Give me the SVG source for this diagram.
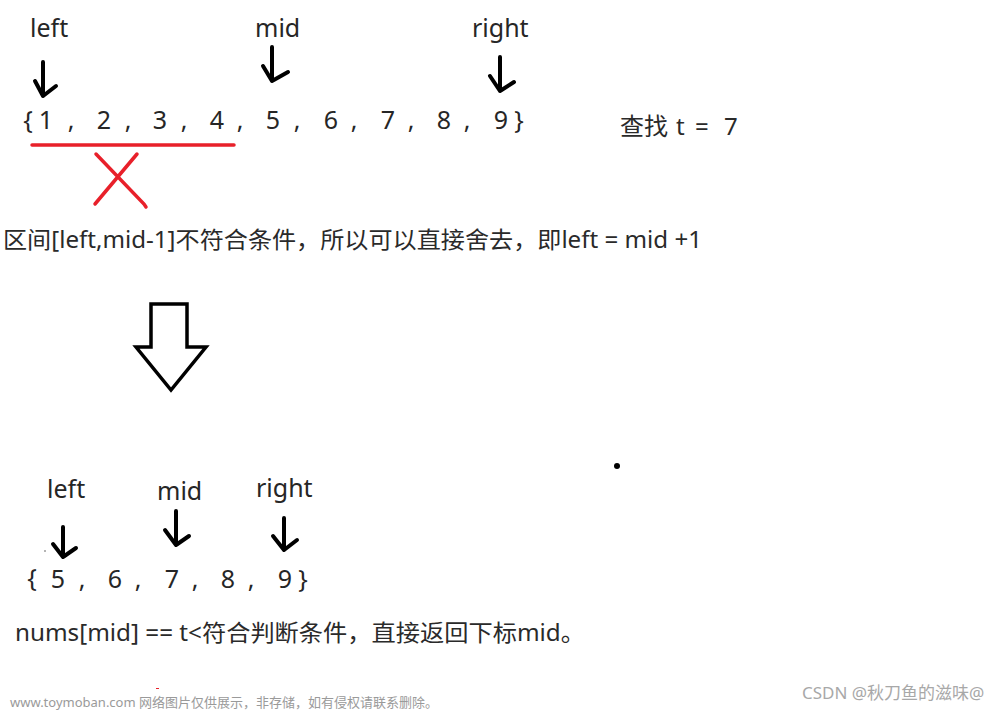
<svg xmlns="http://www.w3.org/2000/svg" width="1000" height="712" viewBox="0 0 1000 712">
<style>
.t{font-family:"Noto Sans","Open Sans","Noto Sans CJK SC",sans-serif;fill:#262626}
.lbl{font-size:25px}
.num{font-size:25px;text-anchor:middle}
.cn{font-family:"Noto Sans","Noto Sans CJK SC",sans-serif;font-size:23px;fill:#2a2a2a}
.pen{fill:none;stroke:#000;stroke-width:4;stroke-linecap:round;stroke-linejoin:round}
.red{fill:none;stroke:#e8202a;stroke-width:3.5;stroke-linecap:round}
.wm{font-family:"Noto Sans","Noto Sans CJK SC",sans-serif;font-size:13px;fill:#9a9a9a}
.csdn{font-family:"Noto Sans","Noto Sans CJK SC",sans-serif;font-size:17px;fill:#a8a8a8}
</style>
<rect width="1000" height="712" fill="#fff"/>
<g id="top-labels">
<text class="t lbl" x="30" y="37">left</text>
<text class="t lbl" x="255" y="37">mid</text>
<text class="t lbl" x="472" y="37">right</text>
</g>
<g id="top-array">
<text class="t num" x="28" y="129">{</text>
<text class="t num" x="46" y="129">1</text><text class="t num" x="71" y="129">,</text>
<text class="t num" x="104" y="129">2</text><text class="t num" x="128" y="129">,</text>
<text class="t num" x="160" y="129">3</text><text class="t num" x="184" y="129">,</text>
<text class="t num" x="217" y="129">4</text><text class="t num" x="240" y="129">,</text>
<text class="t num" x="273" y="129">5</text><text class="t num" x="297" y="129">,</text>
<text class="t num" x="331" y="129">6</text><text class="t num" x="354" y="129">,</text>
<text class="t num" x="388" y="129">7</text><text class="t num" x="411" y="129">,</text>
<text class="t num" x="444" y="129">8</text><text class="t num" x="467" y="129">,</text>
<text class="t num" x="501" y="129">9</text>
<text class="t num" x="519" y="129">}</text>
</g>
<g id="target">
<text class="cn" y="135" style="font-size:24px"><tspan x="620">查找</tspan><tspan x="676">t</tspan><tspan x="695">=</tspan><tspan x="724">7</tspan></text>
</g>
<g id="discard">
<line class="red" x1="32" y1="145" x2="234" y2="145"/>
<path class="red" d="M96 154 L144 204 L146 207 M95 204 L137 154"/>
</g>
<g id="explain1">
<text class="cn" x="3" y="248" textLength="699" lengthAdjust="spacingAndGlyphs">区间[left,mid-1]不符合条件，所以可以直接舍去，即left = mid +1</text>
</g>
<g id="big-arrow">
<path d="M151 304 H187 V347 H206 L171 390 L136 347 H151 Z" fill="#fff" stroke="#000" stroke-width="3.5" stroke-linejoin="miter"/>
</g>
<circle cx="617" cy="466" r="3" fill="#000"/>
<g id="bottom-labels">
<text class="t lbl" x="47" y="498">left</text>
<text class="t lbl" x="157" y="500">mid</text>
<text class="t lbl" x="256" y="497">right</text>
</g>
<g id="bottom-array">
<text class="t num" x="32" y="587">{</text>
<text class="t num" x="58" y="588">5</text><text class="t num" x="82" y="588">,</text>
<text class="t num" x="115" y="588">6</text><text class="t num" x="138" y="588">,</text>
<text class="t num" x="172" y="588">7</text><text class="t num" x="195" y="588">,</text>
<text class="t num" x="228" y="588">8</text><text class="t num" x="251" y="588">,</text>
<text class="t num" x="285" y="588">9</text>
<text class="t num" x="303" y="588">}</text>
</g>
<g id="explain2">
<text class="cn" x="15" y="641" textLength="570" lengthAdjust="spacingAndGlyphs">nums[mid] == t&lt;符合判断条件，直接返回下标mid。</text>
</g>
<g id="connectors">
<path class="pen" d="M43 62 V96 M35 81 L43 96 L56 86"/>
<path class="pen" d="M272 47 V81 M263 66 L272 81 L288 72"/>
<path class="pen" d="M500 57 V91 M490 76 L500 91 L514 82"/>
<path class="pen" d="M63 527 V557 M53 544 L63 557 L76 548"/>
<path class="pen" d="M176 511 V545 M165 530 L176 545 L189 536"/>
<path class="pen" d="M284 518 V550 M273 536 L284 550 L297 540"/>
</g>
<circle cx="45" cy="551" r="0.8" fill="#555"/>
<rect x="156" y="688" width="3" height="1" fill="#e8202a"/>
<g id="watermarks">
<text class="wm" x="10" y="707">www.toymoban.com 网络图片仅供展示，非存储，如有侵权请联系删除。</text>
<text class="csdn" x="802" y="699">CSDN @秋刀鱼的滋味@</text>
</g>
</svg>
